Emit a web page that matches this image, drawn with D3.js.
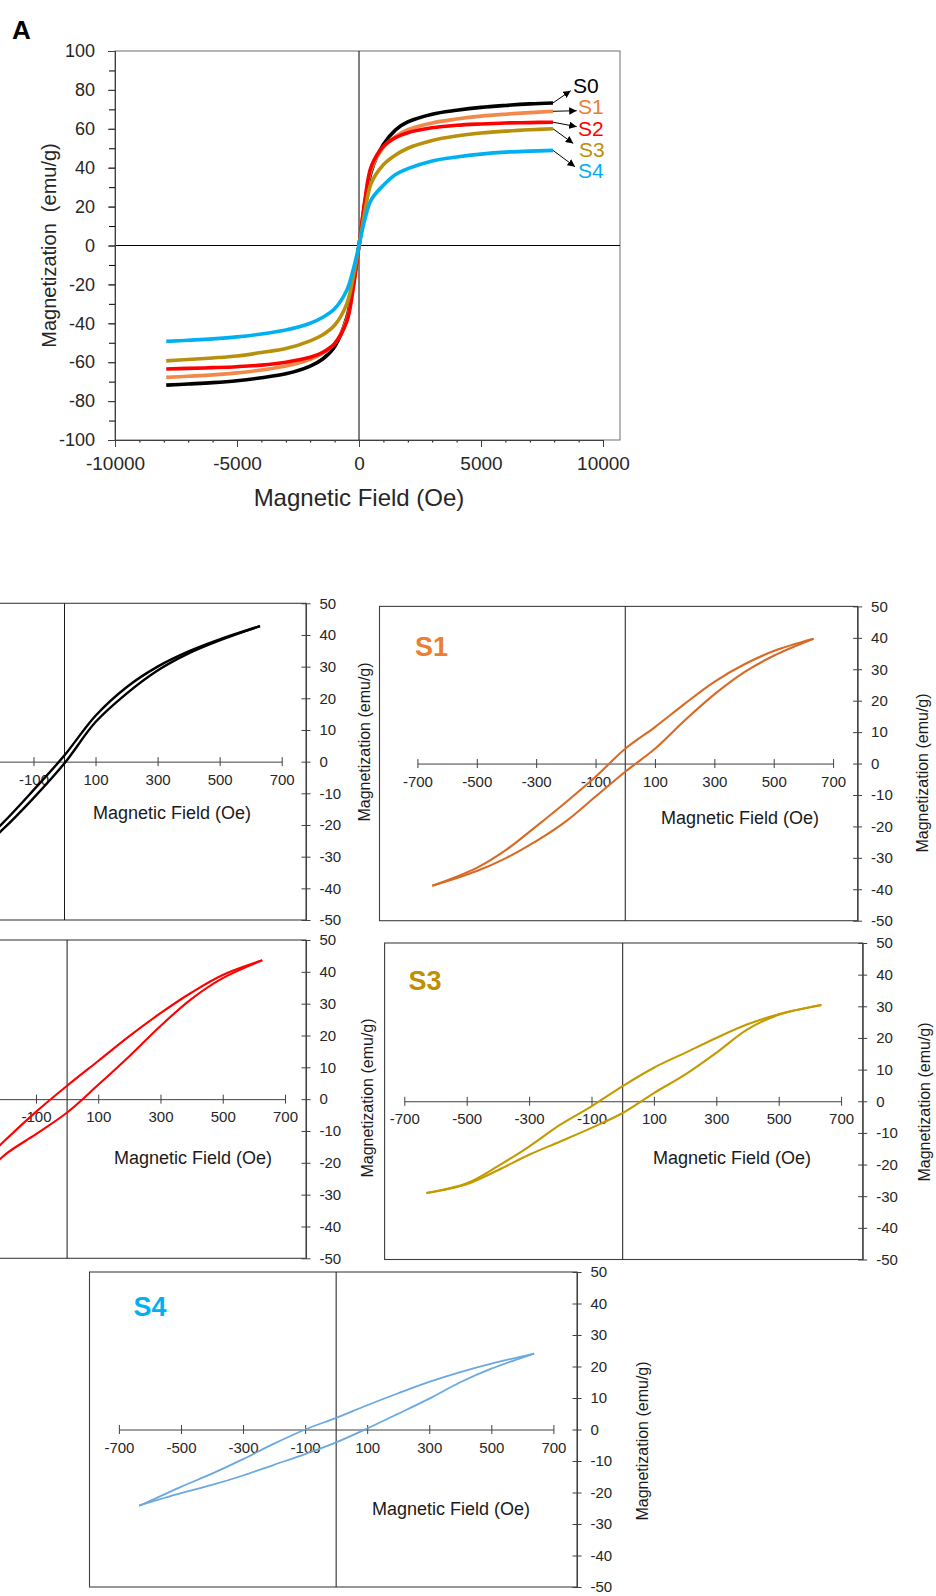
<!DOCTYPE html>
<html lang="en">
<head>
<meta charset="UTF-8">
<title>Magnetization curves S0-S4</title>
<script src="https://cdn.jsdelivr.net/npm/d3@7"></script>
<style>
  body { margin: 0; background: #fff; }
  svg { display: block; font-family: "Liberation Sans", Arial, sans-serif; }
</style>
</head>
<body>
<svg id="fig" width="936" height="1596"></svg>
<script>
// ---------- data, panel A (field in Oe, magnetization in emu/g)
const samples = ['S0', 'S1', 'S2', 'S3', 'S4'];
const fieldA = [-7900, -7000, -6000, -5000, -4000, -3000, -2000, -1500, -1000, -500, -250, 0,
                250, 500, 1000, 1500, 2000, 3000, 4000, 5000, 6000, 7000, 7950];
const magA_S0 = [-71.8, -71.2, -70.5, -69.5, -68, -66, -62, -58.5, -52, -37, -21, 0,
                 22, 38, 52, 59.5, 63.5, 67.5, 69.5, 71, 72, 72.8, 73.3];
const magA_S1 = [-67.8, -67.2, -66.5, -65.5, -64, -62, -58.5, -55.5, -50.5, -38, -22, 0,
                 23, 39, 50.5, 56, 59.5, 63, 65, 66.5, 67.5, 68.3, 69];
const magA_S2 = [-63.5, -63.2, -62.8, -62.3, -61.5, -60, -57.5, -55, -50.5, -39, -23, 0,
                 24, 40.5, 51, 55.5, 58, 60.5, 61.8, 62.5, 63, 63.2, 63.4];
const magA_S3 = [-59.3, -58.6, -57.8, -56.8, -55, -53, -49, -46, -41, -30, -17, 0,
                 18, 32, 41.5, 46.5, 50, 54, 56.3, 57.8, 58.8, 59.5, 60];
const magA_S4 = [-49.3, -48.7, -48, -47, -45.5, -43.5, -40, -37, -32.5, -23, -13, 0,
                 14, 23.5, 31, 36.5, 39.5, 43.5, 45.5, 47, 48, 48.5, 48.9];
const fieldTicksA = [-10000, -5000, 0, 5000, 10000];
const magTicksA = [-100, -80, -60, -40, -20, 0, 20, 40, 60, 80, 100];

// ---------- data, hysteresis loops (upper = descending branch, lower = ascending)
const fieldS0 = [-630, -500, -400, -300, -200, -100, 0, 100, 200, 300, 400, 500, 630];
const upperS0 = [-42.5, -38.3, -34.2, -28.8, -19.5, -9, 2, 14.5, 23.5, 30, 34.8, 38.6, 42.8];
const lowerS0 = [-42.5, -38.8, -35, -30.2, -21.5, -11.5, -0.5, 12.5, 21.5, 28.8, 34.2, 38.3, 42.8];

const fieldS1 = [-650, -500, -400, -300, -200, -100, 0, 100, 200, 300, 400, 500, 634];
const upperS1 = [-38.9, -33.2, -27.4, -20, -12.3, -4.2, 4.7, 11.6, 19, 26, 31.5, 35.8, 39.7];
const lowerS1 = [-38.9, -34.2, -30, -24.7, -18.4, -10.5, -2.6, 4.7, 13.7, 22, 29, 34.3, 39.7];

const fieldS2 = [-627, -500, -400, -300, -200, -100, 0, 100, 200, 300, 400, 500, 627];
const upperS2 = [-43, -37.5, -31, -22.5, -13, -4, 4.2, 12, 19.8, 27, 33.5, 39, 43.6];
const lowerS2 = [-43, -39, -34, -27, -17.5, -11, -4.2, 4.5, 13.5, 23, 31.5, 38, 43.6];

const fieldS3 = [-629, -500, -400, -300, -200, -100, 0, 100, 200, 300, 400, 500, 637];
const upperS3 = [-29, -25.9, -20.5, -14.3, -7.4, -1.6, 4.8, 10.6, 15.3, 20, 24.3, 27.5, 30.4];
const lowerS3 = [-29, -26.2, -21.8, -16.9, -12.7, -8.4, -3.7, 2.6, 8.4, 15.3, 22.7, 27.3, 30.4];

const fieldS4 = [-635, -500, -400, -300, -200, -100, 0, 100, 200, 300, 400, 500, 638];
const upperS4 = [-24.3, -18.2, -14, -9.4, -4.5, 0, 3.7, 7.7, 11.5, 15.1, 18.2, 20.9, 24.1];
const lowerS4 = [-24.1, -20.2, -17.6, -14.6, -11.2, -7.8, -4.1, 0.3, 5, 9.8, 15, 19.3, 24.1];

const loopTicksX = [-700, -500, -300, -100, 100, 300, 500, 700];
const loopTicksY = [-50, -40, -30, -20, -10, 0, 10, 20, 30, 40, 50];

// ---------- styles
const colorA = { S0: '#000000', S1: '#F0894A', S2: '#FF0000', S3: '#B8900C', S4: '#00B0F0' };
const labelColor = { S0: '#000000', S1: '#ED7D31', S2: '#FF0000', S3: '#BF9000', S4: '#00B0F0' };
const loopColor = { S0: '#000000', S1: '#D86A26', S2: '#FF0000', S3: '#C49A00', S4: '#6AA8E0' };
const textColor = '#262626';
const smooth = d3.curveCatmullRom.alpha(0.5);

const svg = d3.select('#fig');

svg.append('defs').append('marker')
  .attr('id', 'arrow')
  .attr('viewBox', '0 0 10 10')
  .attr('refX', 10).attr('refY', 5)
  .attr('markerWidth', 7.5).attr('markerHeight', 7.5)
  .attr('orient', 'auto')
  .append('path').attr('d', 'M0,0 L10,5 L0,10 z').attr('fill', '#000');

function styleAxis(g, size) {
  g.attr('font-size', size).attr('font-family', '"Liberation Sans", Arial, sans-serif')
    .attr('color', '#404040');
  g.selectAll('text').attr('fill', textColor);
}

// =================== panel A ===================
const xA = d3.scaleLinear().domain([-10000, 10000]).range([115, 603]);
const yA = d3.scaleLinear().domain([-100, 100]).range([440, 51]);
const gA = svg.append('g');

gA.append('text').attr('x', 12).attr('y', 39)
  .attr('font-size', 26).attr('font-weight', 'bold').attr('fill', '#000').text('A');

gA.append('rect')
  .attr('x', 115).attr('y', 51).attr('width', 505).attr('height', 389)
  .attr('fill', 'none').attr('stroke', '#6e6e6e').attr('stroke-width', 1);

// zero lines
gA.append('line')
  .attr('x1', 115).attr('x2', 620).attr('y1', yA(0)).attr('y2', yA(0))
  .attr('stroke', '#000').attr('stroke-width', 1);
gA.append('line')
  .attr('x1', xA(0)).attr('x2', xA(0)).attr('y1', 51).attr('y2', 440)
  .attr('stroke', '#000').attr('stroke-width', 1);

// y axis: minor ticks every 10, labels every 20
gA.append('g').attr('transform', 'translate(115,0)')
  .call(d3.axisLeft(yA).tickValues(yA.ticks(20)).tickSize(6).tickFormat('').tickSizeOuter(0));
gA.append('g').attr('transform', 'translate(115,0)')
  .call(d3.axisLeft(yA).tickValues(magTicksA).tickSize(7).tickPadding(13)
    .tickFormat(d => String(d)).tickSizeOuter(0))
  .call(g => styleAxis(g, 18));

// x axis: minor ticks every 1000
gA.append('g').attr('transform', 'translate(0,440)')
  .call(d3.axisBottom(xA).tickValues(xA.ticks(20)).tickSize(2.5).tickFormat('').tickSizeOuter(0))
  .call(g => g.select('.domain').remove());
gA.append('g').attr('transform', 'translate(0,440)')
  .call(d3.axisBottom(xA).tickValues(fieldTicksA).tickSize(7).tickPadding(10)
    .tickFormat(d => String(d)).tickSizeOuter(0))
  .call(g => styleAxis(g, 19));

gA.append('text')
  .attr('transform', `translate(49,${yA(0)}) rotate(-90)`)
  .attr('text-anchor', 'middle').attr('dominant-baseline', 'central')
  .attr('font-size', 20).attr('fill', textColor)
  .style('white-space', 'pre')
  .text('Magnetization  (emu/g)');

gA.append('text')
  .attr('x', xA(0)).attr('y', 506)
  .attr('text-anchor', 'middle')
  .attr('font-size', 24).attr('fill', textColor)
  .text('Magnetic Field (Oe)');

const curvesA = { S0: magA_S0, S1: magA_S1, S2: magA_S2, S3: magA_S3, S4: magA_S4 };
const lineA = d3.line()
  .x((d, i) => xA(fieldA[i]))
  .y(d => yA(d))
  .curve(smooth);

samples.forEach(s => {
  gA.append('path')
    .datum(curvesA[s])
    .attr('d', lineA)
    .attr('fill', 'none')
    .attr('stroke', colorA[s])
    .attr('stroke-width', 3.6);
});

// annotation arrows + labels, in data units
const arrowTip = { S0: [8676, 79.6], S1: [8922, 69.3], S2: [8922, 61.1], S3: [8783, 52.5], S4: [8852, 40.5] };
const labelAt = { S0: [8770, 78.4], S1: [8975, 67.4], S2: [8975, 56.3], S3: [9016, 45.5], S4: [8975, 34.7] };

samples.forEach(s => {
  const ys = curvesA[s];
  gA.append('line')
    .attr('x1', xA(fieldA[fieldA.length - 1])).attr('y1', yA(ys[ys.length - 1]))
    .attr('x2', xA(arrowTip[s][0])).attr('y2', yA(arrowTip[s][1]))
    .attr('stroke', '#000').attr('stroke-width', 1)
    .attr('marker-end', 'url(#arrow)');
  gA.append('text')
    .attr('x', xA(labelAt[s][0])).attr('y', yA(labelAt[s][1]))
    .attr('font-size', 21).attr('fill', labelColor[s])
    .text(s);
});

// =================== hysteresis loops ===================
const loops = {
  S0: { field: fieldS0, upper: upperS0, lower: lowerS0 },
  S1: { field: fieldS1, upper: upperS1, lower: lowerS1 },
  S2: { field: fieldS2, upper: upperS2, lower: lowerS2 },
  S3: { field: fieldS3, upper: upperS3, lower: lowerS3 },
  S4: { field: fieldS4, upper: upperS4, lower: lowerS4 }
};

// frame = [left, top, right, bottom]; xr = pixel range of -700..700 Oe
// S0 and S2 panels run off the left edge of the figure, as in the source
const panelLayout = {
  S0: { frame: [-190, 603.3, 306, 920],      xr: [-152.7, 281.7], xTitle: [172, 813],  yTitle: [364, 742],  label: null },
  S1: { frame: [379.5, 606.4, 857.6, 920.7], xr: [417.4, 833.1],  xTitle: [740, 818],  yTitle: [922, 773],  label: [415, 656] },
  S2: { frame: [-190, 940, 306, 1258.3],     xr: [-150.8, 285],   xTitle: [193, 1158], yTitle: [367, 1098], label: null },
  S3: { frame: [384.6, 943, 862.7, 1259.5],  xr: [404.3, 841.1],  xTitle: [732, 1158], yTitle: [924, 1102], label: [408.6, 990] },
  S4: { frame: [89.5, 1272, 577, 1587],      xr: [118.9, 553.4],  xTitle: [451, 1509], yTitle: [642, 1441], label: [133.4, 1316] }
};

function drawLoop(s) {
  const L = panelLayout[s];
  const [left, top, right, bottom] = L.frame;
  const x = d3.scaleLinear().domain([-700, 700]).range(L.xr);
  const y = d3.scaleLinear().domain([-50, 50]).range([bottom, top]);
  const g = svg.append('g');

  g.append('rect')
    .attr('x', left).attr('y', top).attr('width', right - left).attr('height', bottom - top)
    .attr('fill', 'none').attr('stroke', '#404040').attr('stroke-width', 1.1);

  g.append('line')
    .attr('x1', x(0)).attr('x2', x(0)).attr('y1', top).attr('y2', bottom)
    .attr('stroke', '#1a1a1a').attr('stroke-width', 1);

  // x axis crossing at M = 0, cross ticks
  g.append('g').attr('transform', `translate(0,${y(0)})`)
    .call(d3.axisBottom(x).tickValues(loopTicksX).tickSize(4.5).tickPadding(8)
      .tickSizeOuter(0).tickFormat(d => String(d)))
    .call(a => styleAxis(a, 15))
    .call(a => a.selectAll('.tick line').attr('y1', -4.5).attr('y2', 4.5))
    // labels that fall outside the figure are not shown
    .call(a => a.selectAll('.tick text').filter(d => x(d) < 10).remove());

  // y axis on the right frame edge
  g.append('g').attr('transform', `translate(${right},0)`)
    .call(d3.axisRight(y).tickValues(loopTicksY).tickSize(4.5).tickPadding(9)
      .tickSizeOuter(0).tickFormat(d => String(d)))
    .call(a => styleAxis(a, 15))
    .call(a => a.selectAll('.tick line').attr('x1', -4.5).attr('x2', 4.5));

  g.append('text')
    .attr('x', L.xTitle[0]).attr('y', L.xTitle[1])
    .attr('text-anchor', 'middle').attr('dominant-baseline', 'central')
    .attr('font-size', 18).attr('fill', '#1a1a1a')
    .text('Magnetic Field (Oe)');

  g.append('text')
    .attr('transform', `translate(${L.yTitle[0]},${L.yTitle[1]}) rotate(-90)`)
    .attr('text-anchor', 'middle').attr('dominant-baseline', 'central')
    .attr('font-size', 16).attr('fill', '#1a1a1a')
    .text('Magnetization (emu/g)');

  if (L.label) {
    g.append('text')
      .attr('x', L.label[0]).attr('y', L.label[1])
      .attr('font-size', 27).attr('font-weight', 'bold')
      .attr('fill', labelColor[s])
      .text(s);
  }

  const lp = loops[s];
  const line = d3.line()
    .x((d, i) => x(lp.field[i]))
    .y(d => y(d))
    .curve(smooth);

  [lp.upper, lp.lower].forEach(branch => {
    g.append('path')
      .datum(branch)
      .attr('d', line)
      .attr('fill', 'none')
      .attr('stroke', loopColor[s])
      .attr('stroke-width', s === 'S0' ? 2.4 : (s === 'S4' ? 1.8 : 2.1));
  });
}

samples.forEach(drawLoop);
</script>
</body>
</html>
